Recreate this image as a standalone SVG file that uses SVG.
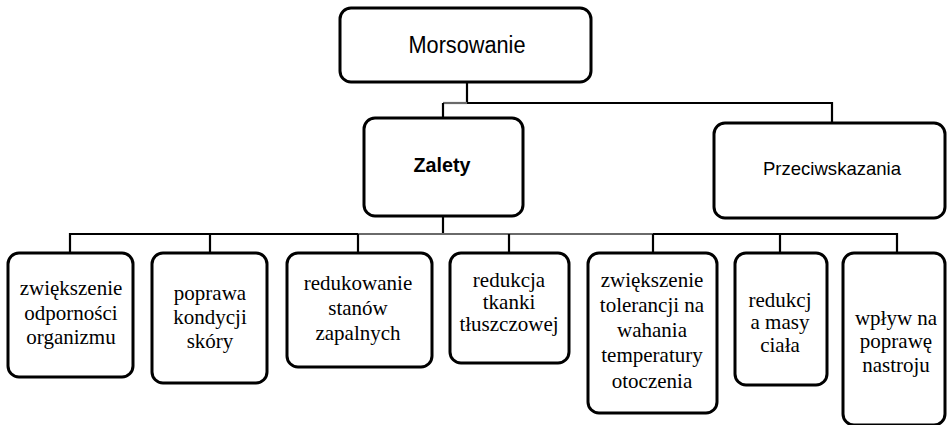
<svg xmlns="http://www.w3.org/2000/svg" width="947" height="425" viewBox="0 0 947 425">
<style>
.box{fill:#fff;stroke:#000;stroke-width:3}
.ln{fill:none;stroke:#000;stroke-width:2.2}
.gl{fill:none;stroke:#6a6a6a;stroke-width:2.2}
.sans{font-family:'Liberation Sans',Arial,sans-serif;fill:#000;text-anchor:middle}
.tnr{font-family:'Liberation Serif','Times New Roman',serif;font-size:21px;fill:#000;text-anchor:middle}
</style>
<rect width="947" height="425" fill="#fff"/>
<g id="connectors">
<path class="ln" d="M467,82 V103 H832 V123"/>
<path class="gl" d="M443,103 H467"/>
<path class="ln" d="M443,103 V118"/>
<path class="ln" d="M443,216 V234"/>
<path class="ln" d="M70,253 V234 H358"/>
<path class="gl" d="M358,234 H653"/>
<path class="ln" d="M653,234 H897 V253"/>
<path class="ln" d="M210,234 V253 M358,234 V253 M509,234 V253 M653,234 V253 M780,234 V253"/>
</g>
<g id="n-morsowanie">
<rect class="box" x="340" y="8" width="251" height="74" rx="11"/>
<text class="sans" x="467" y="53" font-size="23" textLength="117" lengthAdjust="spacingAndGlyphs">Morsowanie</text>
</g>
<g id="n-zalety">
<rect class="box" x="364" y="118" width="159" height="98" rx="11"/>
<text class="sans" x="442" y="172" font-size="21" font-weight="bold" textLength="57" lengthAdjust="spacingAndGlyphs">Zalety</text>
</g>
<g id="n-przeciwskazania">
<rect class="box" x="714" y="123" width="231" height="95" rx="11"/>
<text class="sans" x="832" y="175" font-size="19" textLength="138" lengthAdjust="spacingAndGlyphs">Przeciwskazania</text>
</g>
<g id="n-odpornosc">
<rect class="box" x="8" y="253" width="125" height="124" rx="11"/>
<text class="tnr" x="71" y="295">zwiększenie</text>
<text class="tnr" x="71" y="320">odporności</text>
<text class="tnr" x="71" y="344">organizmu</text>
</g>
<g id="n-skora">
<rect class="box" x="152" y="253" width="115" height="130" rx="11"/>
<text class="tnr" x="210" y="300">poprawa</text>
<text class="tnr" x="210" y="324">kondycji</text>
<text class="tnr" x="210" y="348">skóry</text>
</g>
<g id="n-zapalne">
<rect class="box" x="287" y="253" width="145" height="114" rx="11"/>
<text class="tnr" x="358" y="290">redukowanie</text>
<text class="tnr" x="358" y="315">stanów</text>
<text class="tnr" x="358" y="340">zapalnych</text>
</g>
<g id="n-tkanka">
<rect class="box" x="450" y="253" width="119" height="110" rx="11"/>
<text class="tnr" x="509" y="287">redukcja</text>
<text class="tnr" x="509" y="309">tkanki</text>
<text class="tnr" x="509" y="331">tłuszczowej</text>
</g>
<g id="n-tolerancja">
<rect class="box" x="588" y="253" width="129" height="160" rx="11"/>
<text class="tnr" x="652" y="287">zwiększenie</text>
<text class="tnr" x="652" y="312">tolerancji na</text>
<text class="tnr" x="652" y="337">wahania</text>
<text class="tnr" x="652" y="362">temperatury</text>
<text class="tnr" x="652" y="388">otoczenia</text>
</g>
<g id="n-masa">
<rect class="box" x="735" y="253" width="92" height="132" rx="11"/>
<text class="tnr" x="780" y="307">redukcj</text>
<text class="tnr" x="780" y="329">a masy</text>
<text class="tnr" x="780" y="352">ciała</text>
</g>
<g id="n-nastroj">
<rect class="box" x="843" y="253" width="102" height="172" rx="11"/>
<text class="tnr" x="896" y="325">wpływ na</text>
<text class="tnr" x="896" y="348">poprawę</text>
<text class="tnr" x="896" y="372">nastroju</text>
</g>
</svg>
